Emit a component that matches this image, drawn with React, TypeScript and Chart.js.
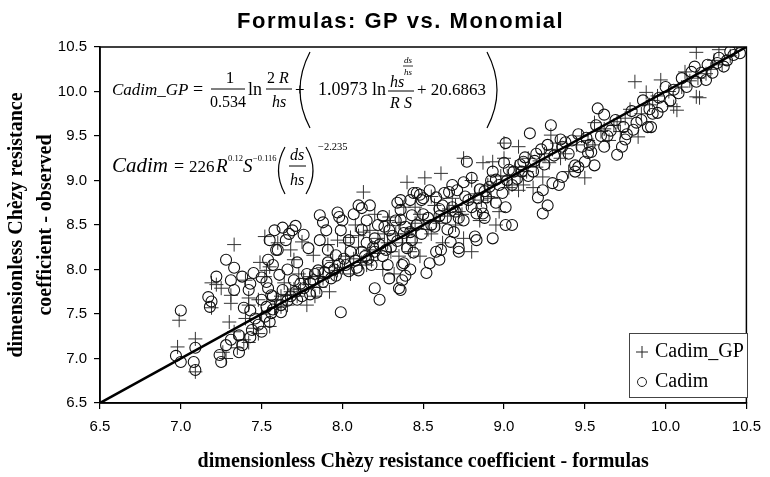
import React, { useEffect, useRef } from "react";
import { Chart, registerables } from "chart.js";

Chart.register(...registerables);

const chartTitle = "Formulas: GP vs. Monomial";
const xAxisTitle = "dimensionless Chèzy resistance coefficient - formulas";
const yAxisTitle = ["dimensionless Chèzy resistance", "coefficient - observed"];
const seriesNames = ["Cadim_GP", "Cadim"];
const axisMin = 6.5;
const axisMax = 10.5;
const tickStep = 0.5;
const fitLineX = [6.5, 10.5];
const fitLineY = [6.5, 10.5];

// Cadim_GP (plus markers): [formulas, observed]
const cadimGP: [number, number][] = [
  [6.99, 7.43], [6.98, 7.13], [7.09, 7.22], [7.09, 6.85], [7.33, 8.28], [7.19, 7.85], [7.22, 7.83], [7.31, 7.71],
  [7.19, 7.57], [7.30, 7.41], [7.42, 7.68], [7.48, 7.66], [7.55, 8.03], [7.52, 7.92], [7.40, 7.88], [7.25, 7.79],
  [7.31, 7.62], [7.42, 7.60], [7.45, 7.34], [7.39, 7.21], [7.28, 7.00], [7.35, 7.12], [7.42, 7.18], [7.40, 7.45],
  [7.49, 8.08], [7.52, 8.37], [7.53, 7.99], [7.48, 7.28], [7.55, 7.36], [7.50, 7.50], [7.26, 7.07], [7.33, 7.30],
  [7.68, 8.22], [7.70, 8.11], [7.59, 7.66], [7.68, 7.75], [7.66, 7.60], [7.79, 7.83], [7.88, 8.02], [7.83, 7.70],
  [7.97, 7.99], [7.91, 8.28], [7.97, 8.33], [7.82, 8.16], [7.75, 8.31], [7.64, 7.85], [7.73, 7.95], [7.78, 7.60],
  [7.86, 7.80], [7.92, 7.75], [7.60, 8.30], [7.62, 7.70], [7.70, 7.78], [7.76, 7.90], [7.85, 7.92], [7.94, 8.10],
  [7.58, 7.57], [7.72, 7.70],
  [8.13, 8.87], [8.17, 8.44], [8.13, 8.42], [8.18, 8.10], [8.05, 8.36], [8.02, 8.30], [8.29, 8.59], [8.35, 8.53],
  [8.10, 8.25], [8.22, 8.35], [8.30, 8.20], [8.40, 8.40], [8.45, 8.30], [8.25, 8.00], [8.35, 8.15], [8.45, 8.52],
  [8.20, 8.62], [8.08, 8.50], [8.38, 8.70], [8.48, 8.62], [8.42, 8.20], [8.05, 7.95], [8.32, 7.95], [8.48, 8.15],
  [8.40, 8.98], [8.15, 8.05], [8.28, 8.30], [8.02, 8.15],
  [8.51, 9.03], [8.61, 9.08], [8.75, 9.25], [8.87, 9.20], [8.93, 9.21], [9.00, 9.42], [9.09, 9.38], [9.29, 9.51],
  [9.56, 9.65], [9.50, 9.03], [9.24, 9.04], [9.12, 8.95], [9.09, 8.89], [8.57, 8.72], [8.65, 8.60], [8.70, 8.50],
  [8.78, 8.75], [8.85, 8.55], [8.92, 8.80], [8.97, 8.65], [9.05, 8.95], [9.10, 9.05], [9.18, 8.92], [9.25, 9.30],
  [9.35, 9.25], [9.40, 9.10], [8.55, 8.40], [8.62, 8.30], [8.75, 8.35], [8.80, 8.20], [8.68, 8.80], [9.15, 9.25],
  [9.45, 9.40], [8.58, 8.55], [8.90, 8.95], [9.02, 9.05], [9.20, 9.15], [9.30, 9.35], [8.72, 8.65], [8.95, 8.50],
  [9.81, 10.11], [9.97, 10.13], [9.88, 9.99], [10.19, 9.94], [10.21, 9.93], [10.33, 10.47], [10.44, 10.50], [9.83, 9.49],
  [10.05, 9.83], [10.07, 9.79], [10.19, 10.44], [9.60, 9.55], [9.68, 9.62], [9.75, 9.70], [9.90, 9.85], [9.95, 9.95],
  [10.10, 10.05], [10.20, 10.15], [10.28, 10.25], [10.35, 10.30], [10.40, 10.40], [9.65, 9.45], [9.72, 9.55], [9.85, 9.75],
  [10.12, 10.22], [9.55, 9.40],
  [7.62, 7.58], [7.66, 7.72], [7.74, 7.78], [7.80, 7.92], [7.88, 7.90], [7.95, 7.96], [8.00, 8.02], [8.07, 8.12],
  [8.12, 8.08], [8.17, 8.22], [8.22, 8.18], [8.26, 8.40], [8.33, 8.40], [8.37, 8.30], [8.43, 8.46], [8.50, 8.55],
  [8.53, 8.45], [8.60, 8.52], [8.66, 8.68], [8.70, 8.72], [8.74, 8.62], [8.82, 8.85], [8.86, 8.78], [8.90, 8.82],
  [8.98, 9.05], [9.03, 8.92], [9.07, 9.15], [9.14, 9.10], [9.22, 9.22], [9.28, 9.20], [9.33, 9.42], [9.38, 9.30],
  [9.48, 9.50], [9.52, 9.45], [9.62, 9.58], [9.70, 9.66], [9.78, 9.80], [9.92, 9.90], [10.02, 10.00], [10.15, 10.12],
  [10.25, 10.20], [10.30, 10.35], [8.55, 8.82], [8.45, 8.70], [8.28, 8.55], [8.80, 9.00], [9.00, 9.25], [8.10, 8.38],
];

// Cadim (circle markers): [formulas, observed]
const cadim: [number, number][] = [
  [7.00, 7.54], [6.97, 7.03], [7.00, 6.96], [7.09, 7.12], [7.08, 6.96], [7.09, 6.87], [7.17, 7.69], [7.19, 7.64],
  [7.18, 7.58], [7.28, 8.11], [7.33, 8.02], [7.22, 7.92], [7.31, 7.88], [7.38, 7.92], [7.45, 7.96], [7.42, 7.77],
  [7.33, 7.77], [7.43, 7.84], [7.39, 7.57], [7.43, 7.54], [7.24, 7.04], [7.25, 6.96], [7.28, 7.15], [7.31, 7.21],
  [7.36, 7.07], [7.38, 7.15], [7.43, 7.24], [7.44, 7.32], [7.48, 7.38], [7.52, 7.47], [7.55, 7.41], [7.56, 7.51],
  [7.54, 7.79], [7.56, 7.71], [7.59, 8.22], [7.46, 7.45], [7.36, 7.26], [7.50, 7.30],
  [7.58, 8.44], [7.55, 8.33], [7.63, 8.47], [7.71, 8.49], [7.60, 8.22], [7.54, 8.11], [7.57, 8.05], [7.61, 7.94],
  [7.66, 8.00], [7.50, 7.91], [7.53, 7.86], [7.63, 7.77], [7.57, 7.70], [7.50, 7.66], [7.53, 7.58], [7.57, 7.55],
  [7.72, 7.66], [7.76, 7.79], [7.82, 7.88], [7.85, 7.99], [7.91, 8.08], [7.80, 7.72], [7.88, 7.86], [7.96, 7.93],
  [7.86, 8.61], [7.88, 8.53], [7.90, 8.44], [7.86, 8.33], [7.97, 8.64], [8.00, 8.55], [7.99, 8.44], [7.91, 8.22],
  [7.96, 8.16], [7.79, 8.24], [7.76, 8.39], [7.72, 8.08], [7.99, 7.52], [7.69, 8.44], [7.67, 8.40], [7.65, 8.33],
  [7.62, 7.60], [7.68, 7.70], [7.74, 7.84], [7.78, 7.95], [7.84, 7.74], [7.93, 7.90], [7.95, 8.00], [7.70, 7.88],
  [8.10, 8.72], [8.12, 8.69], [8.17, 8.72], [7.98, 8.59], [8.04, 8.33], [8.10, 7.99], [8.20, 7.79], [8.23, 7.66],
  [8.29, 7.90], [8.35, 7.79], [8.36, 7.77], [8.37, 7.88], [8.39, 7.93], [8.37, 8.05], [8.26, 8.48], [8.29, 8.44],
  [8.44, 8.86], [8.48, 8.84], [8.50, 8.80], [8.36, 8.56], [8.34, 8.75], [8.36, 8.67], [8.43, 8.61], [8.38, 8.41],
  [8.43, 8.33], [8.40, 8.24], [8.44, 8.19], [8.38, 8.07], [8.42, 8.00], [8.46, 8.86], [8.42, 8.78], [8.36, 8.78],
  [8.49, 8.78], [8.05, 8.20], [8.08, 8.10], [8.15, 8.30], [8.20, 8.20], [8.25, 8.15], [8.30, 8.25], [8.12, 8.45],
  [8.22, 8.50], [8.33, 8.55], [8.02, 8.05], [8.18, 8.05], [8.28, 8.05], [8.15, 8.55], [8.07, 8.62], [8.25, 8.60],
  [8.20, 8.35], [8.14, 8.15],
  [8.52, 7.96], [8.54, 8.07], [8.60, 8.11], [8.58, 8.20], [8.61, 8.22], [8.72, 8.20], [8.72, 8.24], [8.67, 8.31],
  [8.69, 8.42], [8.82, 8.37], [8.83, 8.33], [8.93, 8.35], [9.01, 8.50], [9.05, 8.50], [8.88, 8.58], [8.87, 8.63],
  [8.77, 9.21], [8.80, 9.03], [8.93, 9.10], [9.03, 9.12], [8.75, 8.98], [8.71, 8.89], [8.66, 8.87], [8.63, 8.86],
  [8.95, 9.01], [8.91, 8.93], [8.99, 8.86], [9.01, 8.70], [8.89, 8.81], [8.86, 8.70], [8.83, 8.63], [8.54, 8.89],
  [8.58, 8.81], [9.01, 9.42], [9.13, 9.26], [9.12, 9.21], [9.11, 9.10], [9.16, 9.53], [9.29, 9.62], [9.21, 8.81],
  [9.24, 8.63], [9.27, 8.72], [9.24, 8.89], [9.30, 8.97], [9.34, 8.95], [9.36, 9.04], [9.35, 9.46], [9.38, 9.43],
  [9.51, 9.48], [9.54, 9.32], [9.50, 9.21], [9.44, 9.17], [9.44, 9.10], [9.46, 9.15], [9.48, 9.38], [8.55, 8.50],
  [8.60, 8.60], [8.65, 8.45], [8.70, 8.65], [8.75, 8.55], [8.78, 8.78], [8.85, 8.90], [8.95, 8.75], [9.05, 8.95],
  [9.08, 9.02], [9.18, 9.10], [9.20, 9.30], [9.25, 9.18], [9.40, 9.30], [8.62, 8.72], [8.50, 8.62], [8.68, 8.95],
  [9.00, 9.20],
  [9.58, 9.81], [9.62, 9.74], [9.62, 9.38], [9.70, 9.29], [9.73, 9.38], [9.75, 9.46], [9.52, 9.31], [9.56, 9.17],
  [9.80, 9.57], [9.82, 9.65], [9.85, 9.68], [9.89, 9.60], [9.91, 9.60], [9.95, 9.76], [9.98, 9.83], [10.03, 9.90],
  [10.05, 10.02], [10.16, 10.22], [10.22, 10.21], [10.25, 10.13], [10.19, 10.11], [10.29, 10.21], [10.33, 10.38], [10.32, 10.32],
  [10.42, 10.41], [10.46, 10.43], [10.38, 10.35], [9.66, 9.56], [9.76, 9.52], [9.92, 9.75], [10.08, 9.98], [10.13, 10.05],
  [10.36, 10.28], [9.60, 9.50],
  [7.62, 7.52], [7.66, 7.65], [7.71, 7.75], [7.75, 7.70], [7.80, 7.85], [7.83, 7.95], [7.89, 7.97], [7.92, 8.02],
  [7.98, 8.06], [8.01, 8.12], [8.04, 7.98], [8.09, 8.02], [8.12, 8.20], [8.16, 8.12], [8.19, 8.25], [8.23, 8.28],
  [8.27, 8.22], [8.31, 8.38], [8.34, 8.32], [8.39, 8.48], [8.42, 8.42], [8.46, 8.50], [8.49, 8.40], [8.53, 8.58],
  [8.57, 8.48], [8.60, 8.68], [8.64, 8.58], [8.68, 8.70], [8.72, 8.58], [8.76, 8.82], [8.80, 8.70], [8.84, 8.80],
  [8.88, 8.88], [8.92, 9.00], [8.97, 8.95], [9.02, 9.00], [9.06, 9.10], [9.10, 9.18], [9.15, 9.05], [9.19, 9.22],
  [9.23, 9.35], [9.27, 9.40], [9.31, 9.28], [9.36, 9.38], [9.42, 9.45], [9.46, 9.52], [9.53, 9.40], [9.57, 9.62],
  [9.64, 9.50], [9.69, 9.68], [9.74, 9.60], [9.79, 9.78], [9.86, 9.90], [9.90, 9.80], [9.96, 9.93], [10.00, 10.05],
  [10.10, 10.15], [10.18, 10.28], [10.26, 10.30], [10.40, 10.45],
];

const SERIF = "'Liberation Serif', 'Times New Roman', Times, serif";
const SANS = "Arial, 'Liberation Sans', Helvetica, sans-serif";

function drawFormulas(ctx: CanvasRenderingContext2D) {
  const it = (s: number) => `italic ${s}px ${SERIF}`;
  const rm = (s: number) => `${s}px ${SERIF}`;
  const t = (str: string, x: number, y: number, font: string, align: CanvasTextAlign = "left") => {
    ctx.font = font;
    ctx.textAlign = align;
    ctx.fillText(str, x, y);
  };
  const bar = (x1: number, x2: number, y: number, w = 1) => {
    ctx.lineWidth = w;
    ctx.beginPath();
    ctx.moveTo(x1, y);
    ctx.lineTo(x2, y);
    ctx.stroke();
  };
  const paren = (x: number, y1: number, y2: number, bulge: number) => {
    ctx.lineWidth = 1.2;
    ctx.beginPath();
    ctx.moveTo(x, y1);
    ctx.quadraticCurveTo(x + bulge, (y1 + y2) / 2, x, y2);
    ctx.stroke();
  };
  ctx.save();
  ctx.fillStyle = "#000";
  ctx.strokeStyle = "#000";
  ctx.textBaseline = "alphabetic";

  // Line 1: Cadim_GP
  const b1 = 95;
  t("Cadim_GP", 112, b1, it(17));
  t("=", 193, b1, rm(18));
  t("1", 230, 83, rm(17), "center");
  bar(211, 245, 89);
  t("0.534", 228, 107, rm(16), "center");
  t("ln", 248, b1, rm(18));
  t("2", 271, 83, rm(16), "center");
  t("R", 279, 83, it(16));
  bar(266, 292, 89);
  t("hs", 279, 107, it(16), "center");
  t("+", 295, b1, rm(17));
  paren(310, 52, 128, -20);
  t("1.0973", 318, b1, rm(18));
  t("ln", 372, b1, rm(18));
  t("hs", 390, 87, it(16));
  t("ds", 408, 63, it(9), "center");
  bar(403, 413, 66, 0.8);
  t("hs", 408, 75, it(9), "center");
  bar(388, 414, 91);
  t("R S", 401, 108, it(16), "center");
  t("+ 20.6863", 417, b1, rm(17));
  paren(487, 52, 128, 20);

  // Line 2: Cadim
  const b2 = 172;
  t("Cadim", 112, b2, it(21));
  t("=", 174, b2, rm(18));
  t("226", 189, b2, rm(17));
  t("R", 216, b2, it(19));
  t("0.12", 228, 161, rm(8.5));
  t("S", 243, b2, it(19));
  t("\u22120.116", 253, 161, rm(8.5));
  paren(285, 147, 194, -13);
  t("ds", 297, 160, it(16), "center");
  bar(289, 306, 166);
  t("hs", 297, 185, it(16), "center");
  paren(306, 147, 194, 14);
  t("\u22122.235", 318, 150, rm(10.5));
  ctx.restore();
}

const decorPlugin = {
  id: "decor",
  beforeDatasetsDraw(chart: any) {
    drawFormulas(chart.ctx);
  },
  afterDraw(chart: any) {
    const ctx: CanvasRenderingContext2D = chart.ctx;
    const a = chart.chartArea;
    ctx.save();
    // frame
    ctx.strokeStyle = "#000";
    ctx.lineWidth = 1.5;
    ctx.strokeRect(a.left, a.top, a.right - a.left, a.bottom - a.top);

    // title
    ctx.fillStyle = "#000";
    ctx.font = `bold 22px ${SANS}`;
    ctx.textAlign = "left";
    ctx.textBaseline = "alphabetic";
    (ctx as any).letterSpacing = "1.5px";
    ctx.fillText(chartTitle, 237, 28);
    (ctx as any).letterSpacing = "0px";

    // legend
    const ds = chart.data.datasets;
    const lx = 629.5, ly = 333.5, lw = 118, lh = 64;
    ctx.fillStyle = "#fff";
    ctx.fillRect(lx, ly, lw, lh);
    ctx.strokeStyle = "#444";
    ctx.lineWidth = 1;
    ctx.strokeRect(lx, ly, lw, lh);
    ctx.strokeStyle = "#222";
    ctx.beginPath();
    ctx.moveTo(636, 352);
    ctx.lineTo(648, 352);
    ctx.moveTo(642, 346);
    ctx.lineTo(642, 358);
    ctx.stroke();
    ctx.beginPath();
    ctx.arc(642, 382, 4.5, 0, Math.PI * 2);
    ctx.stroke();
    ctx.fillStyle = "#000";
    ctx.font = `20px ${SERIF}`;
    ctx.textBaseline = "middle";
    ctx.fillText(ds[1].label, 655, 352);
    ctx.fillText(ds[2].label, 655, 382);
    ctx.restore();
  },
};

export default function App() {
  const ref = useRef<HTMLCanvasElement | null>(null);
  useEffect(() => {
    if (!ref.current) return;
    const chart = new Chart(ref.current, {
      type: "scatter",
      data: {
        datasets: [
          {
            type: "line",
            label: "fit",
            data: fitLineX.map((x, i) => ({ x, y: fitLineY[i] })),
            borderColor: "#000",
            borderWidth: 2.5,
            pointRadius: 0,
            fill: false,
            order: 0,
          } as any,
          {
            label: seriesNames[0],
            data: cadimGP.map(([x, y]) => ({ x, y })),
            pointStyle: "cross",
            pointRadius: 7,
            borderColor: "#333",
            backgroundColor: "#333",
            borderWidth: 1,
            order: 2,
          },
          {
            label: seriesNames[1],
            data: cadim.map(([x, y]) => ({ x, y })),
            pointStyle: "circle",
            pointRadius: 5.5,
            borderColor: "#111",
            backgroundColor: "rgba(0,0,0,0)",
            borderWidth: 1.1,
            order: 1,
          },
        ],
      },
      options: {
        responsive: false,
        animation: false,
        devicePixelRatio: 1,
        layout: { padding: { left: 0, right: 17, top: 47, bottom: 0 } },
        plugins: {
          legend: { display: false },
          title: { display: false },
          tooltip: { enabled: false },
        },
        scales: {
          x: {
            type: "linear",
            min: axisMin,
            max: axisMax,
            ticks: {
              stepSize: tickStep,
              callback: (v: any) => Number(v).toFixed(1),
              font: { family: SANS, size: 15 },
              color: "#000",
              padding: 9,
              maxRotation: 0,
              autoSkip: false,
            },
            grid: { display: true, drawOnChartArea: false, drawTicks: true, tickLength: 6, color: "#000", lineWidth: 1.2 },
            border: { display: true, color: "#000", width: 1.5 },
            title: {
              display: true,
              text: xAxisTitle,
              color: "#000",
              font: { family: SERIF, size: 20, weight: "bold", lineHeight: 1.2 },
              padding: { top: 0, bottom: 3 },
            },
            afterFit: (s: any) => {
              s.height = 74;
            },
          },
          y: {
            type: "linear",
            min: axisMin,
            max: axisMax,
            ticks: {
              stepSize: tickStep,
              callback: (v: any) => Number(v).toFixed(1),
              font: { family: SANS, size: 15 },
              color: "#000",
              padding: 7,
              autoSkip: false,
            },
            grid: { display: true, drawOnChartArea: false, drawTicks: true, tickLength: 6, color: "#000", lineWidth: 1.2 },
            border: { display: true, color: "#000", width: 1.5 },
            title: {
              display: true,
              text: yAxisTitle,
              color: "#000",
              font: { family: SERIF, size: 20, weight: "bold", lineHeight: 1.45 },
              padding: { top: 2, bottom: 0 },
            },
            afterFit: (s: any) => {
              s.width = 100;
            },
          },
        },
      } as any,
      plugins: [decorPlugin],
    });
    return () => chart.destroy();
  }, []);
  return (
    <div style={{ position: "absolute", left: 0, top: 0, width: 770, height: 477, background: "#fff" }}>
      <canvas ref={ref} width={770} height={477} style={{ width: 770, height: 477, display: "block" }} />
    </div>
  );
}
